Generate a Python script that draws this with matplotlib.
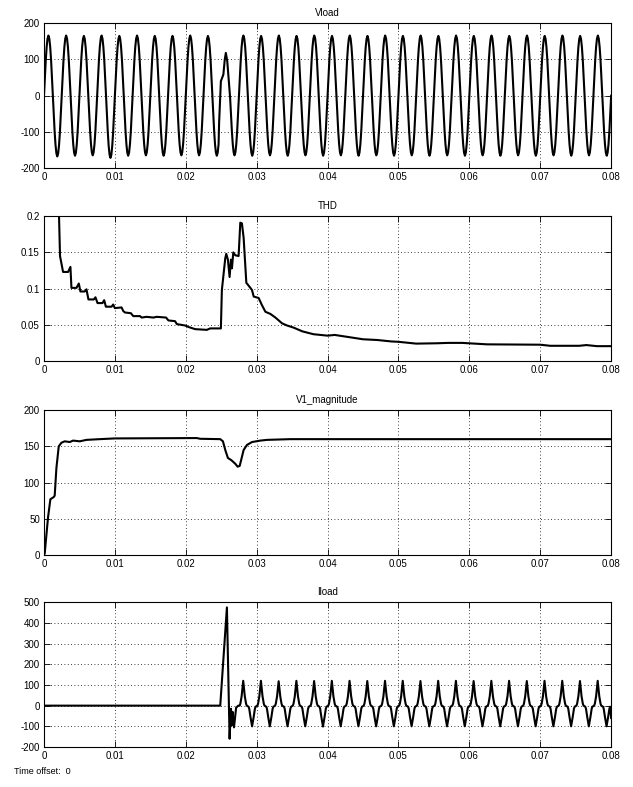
import numpy as np
import matplotlib
matplotlib.use("Agg")
import matplotlib.pyplot as plt

plt.rcParams['font.family'] = ['Liberation Sans', 'DejaVu Sans']
plt.rcParams['axes.unicode_minus'] = False

# ---- Vload: 400 Hz waveform, one amplitude per half cycle ----
half_period = 0.00125
half_wave_shape = [0.0, 0.31, 0.59, 0.81, 0.95, 1.0, 0.95, 0.81, 0.59, 0.31]
vload_peaks = [166, 166, 165, 166, 165, 166, 165, 165, 166, 165,
               118, 166, 165, 166, 165, 166, 165, 166, 165, 166,
               165, 166, 165, 166, 165, 166, 165, 166, 165, 166, 165, 166]
vload_troughs = [-168, -166, -165, -172, -166, -165, -166, -165, -165, -166,
                 -165, -166, -165, -166, -165, -166, -165, -166, -165, -166,
                 -165, -166, -165, -166, -165, -166, -165, -166, -165, -166, -165, -166]
# disturbance around the load switching
vload_dist_t = [0.02470, 0.02495, 0.02510, 0.02530, 0.02550, 0.02565, 0.02585, 0.02605, 0.02625]
vload_dist_v = [-75, 40, 48, 58, 100, 118, 95, 45, -5]

# ---- THD ----
thd_t = [0.0020, 0.00212, 0.00226, 0.00269, 0.0034, 0.00373, 0.00387, 0.00458, 0.00491,
         0.00514, 0.00575, 0.00599, 0.00627, 0.00703, 0.00726, 0.00755, 0.00825, 0.00849,
         0.00873, 0.00953, 0.00976, 0.0100, 0.01094, 0.01118, 0.01142, 0.01226, 0.01259,
         0.01354, 0.01377, 0.01448, 0.01542, 0.0159, 0.01722, 0.01755, 0.01849, 0.01873,
         0.01991, 0.02038, 0.02132, 0.02297, 0.02344, 0.02495, 0.02509, 0.02557, 0.02571,
         0.02594, 0.02618, 0.02637, 0.02651, 0.0267, 0.02698, 0.02745, 0.02769, 0.02792,
         0.02816, 0.02854, 0.02887, 0.02934, 0.02958, 0.03028, 0.03075, 0.03123, 0.03193,
         0.03264, 0.03358, 0.03429, 0.03524, 0.03642, 0.038, 0.040, 0.041, 0.043, 0.045,
         0.047, 0.049, 0.050, 0.0525, 0.0555, 0.057, 0.059, 0.0625, 0.070, 0.0714, 0.0755,
         0.0765, 0.078, 0.080]
thd_v = [0.30, 0.20, 0.145, 0.123, 0.123, 0.130, 0.101, 0.101, 0.107,
         0.096, 0.096, 0.099, 0.085, 0.085, 0.088, 0.080, 0.080, 0.084,
         0.075, 0.075, 0.078, 0.073, 0.074, 0.069, 0.067, 0.066, 0.062,
         0.062, 0.060, 0.061, 0.060, 0.061, 0.060, 0.056, 0.055, 0.051,
         0.049, 0.047, 0.044, 0.043, 0.045, 0.045, 0.098, 0.142, 0.148,
         0.140, 0.116, 0.140, 0.128, 0.150, 0.146, 0.145, 0.191, 0.190,
         0.170, 0.108, 0.104, 0.098, 0.089, 0.087, 0.077, 0.068, 0.065,
         0.060, 0.052, 0.049, 0.046, 0.041, 0.037, 0.035, 0.036, 0.033, 0.030,
         0.029, 0.027, 0.0265, 0.024, 0.0245, 0.025, 0.025, 0.023, 0.0225, 0.021, 0.021,
         0.022, 0.0205, 0.0205]

# ---- V1_magnitude ----
v1_t = [0.0, 0.0001, 0.00057, 0.0009, 0.00137, 0.00151, 0.00175, 0.00208, 0.00245,
        0.00292, 0.00363, 0.0041, 0.00505, 0.00599, 0.00788, 0.0100, 0.02156, 0.02203,
        0.02486, 0.02524, 0.02557, 0.02594, 0.02642, 0.02698, 0.02731, 0.0276, 0.02778,
        0.02816, 0.02863, 0.02934, 0.03052, 0.03146, 0.03476, 0.080]
v1_v = [0, 2, 52, 77, 80, 82, 120, 150, 155,
        157, 156, 158, 157, 159, 160, 161, 161.5, 160.5,
        160, 157, 145, 134, 131, 126, 122, 123, 130,
        145, 152, 156, 158, 159, 160, 160]

# ---- Iload ----
iload_trans_t = [0.0, 0.02486, 0.0258, 0.02618, 0.02637, 0.0265, 0.0266, 0.0268, 0.0271, 0.0274]
iload_trans_v = [0, 0, 475, -160, -15, -95, -30, -105, -10, 0]
iload_period = 0.0025
iload_first_peak = 0.0281
iload_cycle_phase = [-0.20, -0.16, -0.09, 0.0, 0.09, 0.16, 0.20, 0.30, 0.34, 0.41, 0.50, 0.59, 0.66, 0.70]
iload_cycle_shape = [0, 10, 45, None, 45, 10, 0, -5, -15, -55, None, -55, -15, -5]
iload_peaks = [120, 120, 118, 120, 119, 120, 120, 119, 120, 120, 119,
               120, 120, 119, 120, 120, 119, 120, 120, 119, 120]
iload_troughs = [-100, -100, -100, -100, -101, -100, -100, -100, -100, -100, -100,
                 -100, -100, -100, -100, -100, -100, -100, -100, -100, -100]

titles = ['Vload', 'THD', 'V1_magnitude', 'Iload']
ylims = [(-200, 200), (0, 0.2), (0, 200), (-200, 500)]
yticks = [[-200, -100, 0, 100, 200], [0, 0.05, 0.1, 0.15, 0.2],
          [0, 50, 100, 150, 200], [-200, -100, 0, 100, 200, 300, 400, 500]]
ytick_labels = [['-200', '-100', '0', '100', '200'], ['0', '0.05', '0.1', '0.15', '0.2'],
                ['0', '50', '100', '150', '200'],
                ['-200', '-100', '0', '100', '200', '300', '400', '500']]
xticks = [0, 0.01, 0.02, 0.03, 0.04, 0.05, 0.06, 0.07, 0.08]
xtick_labels = ['0', '0.01', '0.02', '0.03', '0.04', '0.05', '0.06', '0.07', '0.08']


def build_vload():
    t, v = [], []
    n = len(half_wave_shape)
    for k in range(2 * len(vload_peaks)):
        amp = vload_peaks[k // 2] if k % 2 == 0 else vload_troughs[k // 2]
        for i, s in enumerate(half_wave_shape):
            t.append(k * half_period + i * half_period / n)
            v.append(amp * s)
    t.append(2 * len(vload_peaks) * half_period)
    v.append(0.0)
    t = np.array(t)
    v = np.array(v)
    keep = (t < vload_dist_t[0]) | (t > vload_dist_t[-1])
    t = np.concatenate([t[keep], vload_dist_t])
    v = np.concatenate([v[keep], vload_dist_v])
    order = np.argsort(t)
    return t[order], v[order]


def build_iload():
    t = list(iload_trans_t)
    v = list(iload_trans_v)
    for k in range(len(iload_peaks)):
        for ph, val in zip(iload_cycle_phase, iload_cycle_shape):
            if val is None:
                val = iload_peaks[k] if ph == 0.0 else iload_troughs[k]
            tt = iload_first_peak + (k + ph) * iload_period
            if tt <= 0.08:
                t.append(tt)
                v.append(val)
    t.append(0.08)
    v.append(-60)
    return t, v


vl_t, vl_v = build_vload()
il_t, il_v = build_iload()
series = [(vl_t, vl_v), (thd_t, thd_v), (v1_t, v1_v), (il_t, il_v)]

fig = plt.figure(figsize=(6.33, 7.87), dpi=100)
bottoms = [0.7865, 0.5413, 0.2948, 0.0508]
for i in range(4):
    ax = fig.add_axes([0.0695, bottoms[i], 0.896, 0.184])
    ax.plot(series[i][0], series[i][1], color='black', lw=1.5)
    ax.set_xlim(0, 0.08)
    ax.set_ylim(*ylims[i])
    ax.set_xticks(xticks)
    ax.set_xticklabels(xtick_labels)
    ax.set_yticks(yticks[i])
    ax.set_yticklabels(ytick_labels[i])
    ax.grid(True, color='black', lw=0.6, linestyle=(0, (1, 3)))
    ax.tick_params(direction='in', length=4, width=0.6, labelsize=7,
                   top=True, right=True, pad=3)
    for sp in ax.spines.values():
        sp.set_linewidth(0.8)
    ax.set_title(titles[i], fontsize=7, pad=5)

fig.text(14 / 633, 1 - 771 / 787, 'Time offset:  0', fontsize=6.5, va='center')

fig.savefig('out.png', dpi=100)
